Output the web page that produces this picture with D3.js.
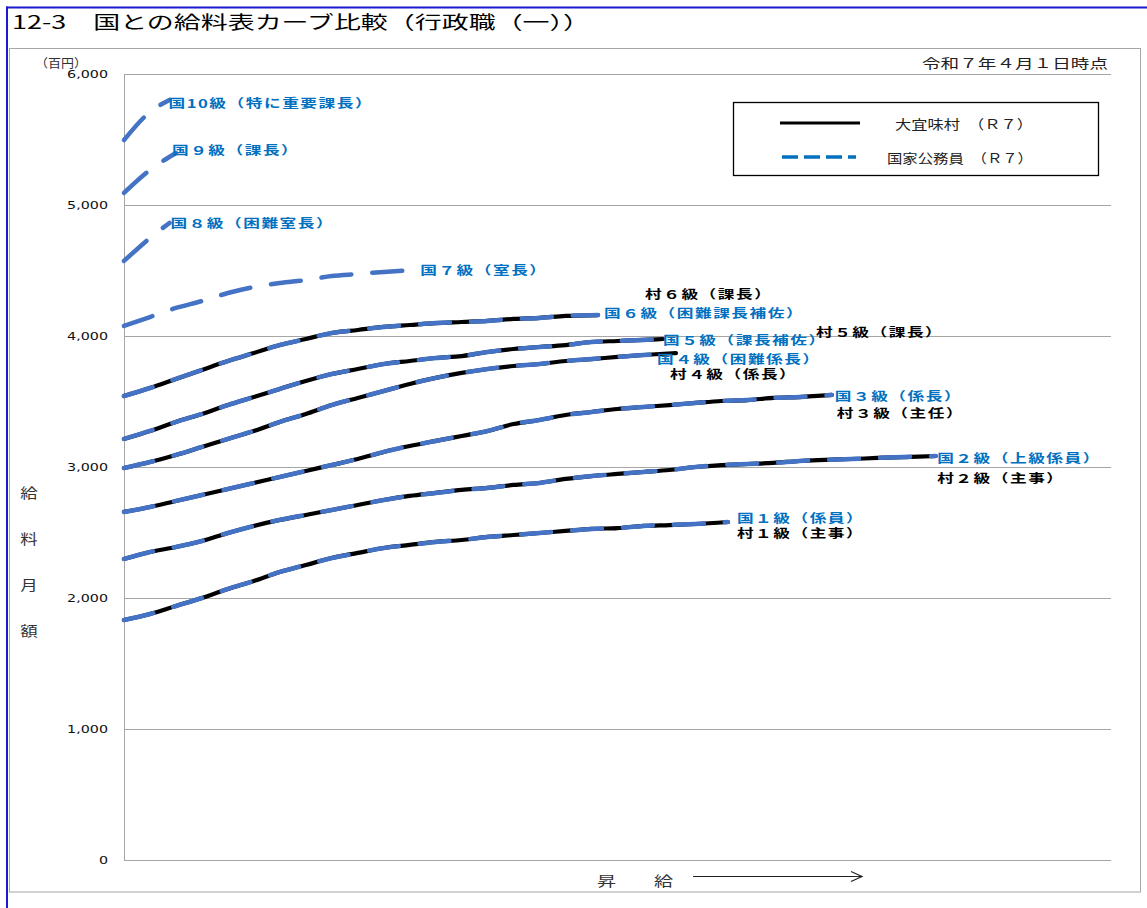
<!DOCTYPE html>
<html lang="ja">
<head>
<meta charset="utf-8">
<script src="https://cdn.jsdelivr.net/npm/d3@7"></script>
<style>
  html, body { margin: 0; padding: 0; background: #fff; }
  svg text { font-family: "Noto Sans CJK JP", "Noto Sans", sans-serif; }
</style>
</head>
<body>
<svg id="chart" width="1147" height="908"></svg>
<script>
// ---------- data (給料月額, 百円) ----------
const yTicks = [0, 1000, 2000, 3000, 4000, 5000, 6000];
const sampleEvery = 4;   // 号俸 between sampled points
const maxStep = 152;     // last 号俸 position on the horizontal axis

// 国家公務員 行政職（一） grades 1–10: values every 4 号俸, last value at the grade's final 号俸
const kuni1  = [1832,1878,1939,2000,2069,2130,2199,2252,2305,2344,2382,2405,2428,2443,2466,2481,2496,2512,2527,2534,2550,2557,2565,2580];
const kuni2  = [2298,2351,2389,2435,2496,2550,2596,2634,2672,2710,2748,2779,2802,2825,2840,2863,2878,2909,2931,2947,2962,2977,3000,3015,3023,3031,3046,3054,3061,3069,3076,3084];
const kuni3  = [2657,2695,2741,2786,2832,2878,2924,2970,3015,3061,3115,3160,3199,3237,3275,3328,3359,3397,3420,3443,3458,3473,3489,3504,3511,3527,3534,3550];
const kuni4  = [2992,3038,3092,3153,3214,3275,3344,3405,3473,3527,3580,3634,3680,3718,3748,3771,3786,3809,3824,3840,3855,3863];
const kuni5  = [3214,3275,3344,3405,3473,3534,3596,3657,3710,3748,3786,3809,3832,3847,3878,3901,3916,3931,3954,3962,3970,3977];
const kuni6  = [3542,3603,3672,3741,3809,3870,3931,3977,4023,4046,4069,4084,4099,4107,4115,4130,4138,4153,4160];
const kuni7  = [4077,4145,4214,4267,4328,4374,4405,4427,4458,4473,4489,4504];
const kuni8  = [4573,4748,4863];
const kuni9  = [5092,5267,5397];
const kuni10 = [5496,5710,5802];
const kuniLastStep = [93, 125, 109, 83, 83, 73, 45, 7, 8, 7];
const kuniLabels = [
  "国１級（係員）", "国２級（上級係員）", "国３級（係長）", "国４級（困難係長）",
  "国５級（課長補佐）", "国６級（困難課長補佐）", "国７級（室長）", "国８級（困難室長）",
  "国９級（課長）", "国10級（特に重要課長）"
];

// 大宜味村 grades 1–6
const mura1 = [1832,1878,1939,2000,2069,2130,2199,2252,2305,2344,2382,2405,2428,2443,2466,2481,2496,2512,2527,2534,2550,2557,2565,2580];
const mura2 = [2298,2351,2389,2435,2496,2550,2596,2634,2672,2710,2748,2779,2802,2825,2840,2863,2878,2909,2931,2947,2962,2977,3000,3015,3023,3031,3046,3054,3061,3069,3076,3084];
const mura3 = [2657,2695,2741,2786,2832,2878,2924,2970,3015,3061,3115,3160,3199,3237,3275,3328,3359,3397,3420,3443,3458,3473,3489,3504,3511,3527,3534,3550];
const mura4 = [2992,3038,3092,3153,3214,3275,3344,3405,3473,3527,3580,3634,3680,3718,3748,3771,3786,3809,3824,3840,3855,3870];
const mura5 = [3214,3275,3344,3405,3473,3534,3596,3657,3710,3748,3786,3809,3832,3847,3878,3901,3916,3931,3954,3962,3970,3977];
const mura6 = [3542,3603,3672,3741,3809,3870,3931,3977,4023,4046,4069,4084,4099,4107,4115,4130,4138,4153,4160];
const muraLastStep = [93, 125, 109, 85, 83, 73];
const muraLabels = [
  "村１級（主事）", "村２級（主事）", "村３級（主任）",
  "村４級（係長）", "村５級（課長）", "村６級（課長）"
];

const legendNames = ["大宜味村　（Ｒ７）", "国家公務員　（Ｒ７）"];

// ---------- layout ----------
const W = 1147, H = 908;
const plot = { left: 124, right: 1111, top: 74, bottom: 860 };
const BLUE_LINE = "#4472C4", BLUE_TEXT = "#0070C0";

// label offsets (px) from each series' end point: [dx, dy]
const kuniLabelOffset = [[9,-4.5],[1.5,2],[3,0.5],[-6,4.5],[0,1],[6,-2.5],[4,0],[1,0],[-4,-3],[-1,3]];
const muraLabelOffset = [[9,11],[1.5,21.5],[5,17.5],[-6,20.5],[153,-7.5],[47,-21.5]];

const svg = d3.select("#chart");

const x = d3.scaleLinear().domain([0, maxStep]).range([plot.left, plot.right]);
const y = d3.scaleLinear().domain([0, 6000]).range([plot.bottom, plot.top]);

function toPoints(values, lastStep) {
  return values.map((v, i) => ({
    step: i === values.length - 1 ? lastStep : i * sampleEvery,
    v
  }));
}
const line = d3.line().x(d => x(d.step)).y(d => y(d.v)).curve(d3.curveMonotoneX);

// outer cell border
svg.append("line").attr("x1", 6).attr("x2", W).attr("y1", 7.5).attr("y2", 7.5)
  .attr("stroke", "#1a1ad0").attr("stroke-width", 2);
svg.append("line").attr("x1", 7).attr("x2", 7).attr("y1", 6.5).attr("y2", H)
  .attr("stroke", "#1a1ad0").attr("stroke-width", 2);

// title
svg.append("text").attr("x", 12).attr("y", 29)
  .attr("font-size", 18).attr("fill", "#000")
  .attr("textLength", 578).attr("lengthAdjust", "spacingAndGlyphs")
  .text("12-3　国との給料表カーブ比較（行政職（一））");

// chart area frame
svg.append("rect").attr("x", 9.5).attr("y", 48.5).attr("width", 1131).attr("height", 843.5)
  .attr("fill", "none").attr("stroke", "#a6a6a6").attr("stroke-width", 1);

// gridlines
svg.append("g").selectAll("line").data(yTicks.filter(t => t > 0)).join("line")
  .attr("x1", plot.left).attr("x2", plot.right)
  .attr("y1", d => Math.round(y(d)) + 0.5).attr("y2", d => Math.round(y(d)) + 0.5)
  .attr("stroke", "#a6a6a6").attr("stroke-width", 1);

// axis lines (no tick marks)
svg.append("line").attr("x1", plot.left + 0.5).attr("x2", plot.left + 0.5)
  .attr("y1", plot.top).attr("y2", plot.bottom + 0.5).attr("stroke", "#a6a6a6");
svg.append("line").attr("x1", plot.left).attr("x2", plot.right)
  .attr("y1", plot.bottom + 0.5).attr("y2", plot.bottom + 0.5).attr("stroke", "#a6a6a6");

// y tick labels
const fmt = d3.format(",");
svg.append("g").selectAll("text").data(yTicks).join("text")
  .attr("transform", d => `translate(108,${y(d)}) scale(1.3,1)`)
  .attr("text-anchor", "end").attr("dominant-baseline", "central")
  .attr("font-size", 11).attr("fill", "#111")
  .style("font-family", "'DejaVu Sans', sans-serif")
  .text(d => fmt(d));

// unit
svg.append("text").attr("x", 35).attr("y", 62).attr("dominant-baseline", "central")
  .attr("font-size", 12).attr("fill", "#333")
  .attr("textLength", 52).attr("lengthAdjust", "spacingAndGlyphs")
  .text("（百円）");

// date note
svg.append("text").attr("x", 922).attr("y", 62.5).attr("dominant-baseline", "central")
  .attr("font-size", 13).attr("fill", "#222")
  .attr("textLength", 186).attr("lengthAdjust", "spacingAndGlyphs")
  .text("令和７年４月１日時点");

// vertical axis title
const yTitle = ["給", "料", "月", "額"];
svg.append("g").selectAll("text").data(yTitle).join("text")
  .attr("transform", (d, i) => `translate(29,${492 + i * 46}) scale(1.25,1)`)
  .attr("text-anchor", "middle").attr("dominant-baseline", "central")
  .attr("font-size", 14).attr("fill", "#333")
  .text(d => d);

// horizontal axis caption with arrow
svg.append("text").attr("transform", "translate(597,880) scale(1.36,1)")
  .attr("dominant-baseline", "central").attr("font-size", 14).attr("fill", "#333")
  .text("昇　　給");
svg.append("line").attr("x1", 693).attr("x2", 862).attr("y1", 876.5).attr("y2", 876.5)
  .attr("stroke", "#222").attr("stroke-width", 1);
svg.append("path").attr("d", "M851,871.5 L862,876.5 L851,881.5")
  .attr("fill", "none").attr("stroke", "#222").attr("stroke-width", 1.2);

// village lines (solid black) underneath
const muraSeries = [mura1, mura2, mura3, mura4, mura5, mura6];
const muraData = muraSeries.map((vals, i) => ({
  pts: toPoints(vals, muraLastStep[i]), label: muraLabels[i], off: muraLabelOffset[i]
}));
svg.append("g").selectAll("path").data(muraData).join("path")
  .attr("d", d => line(d.pts))
  .attr("fill", "none").attr("stroke", "#000").attr("stroke-width", 4.2)
  .attr("stroke-linecap", "round").attr("stroke-linejoin", "round");

// national lines (long-dash blue) on top
const kuniSeries = [kuni1, kuni2, kuni3, kuni4, kuni5, kuni6, kuni7, kuni8, kuni9, kuni10];
const kuniData = kuniSeries.map((vals, i) => ({
  pts: toPoints(vals, kuniLastStep[i]), label: kuniLabels[i], off: kuniLabelOffset[i]
}));
svg.append("g").selectAll("path").data(kuniData).join("path")
  .attr("d", d => line(d.pts))
  .attr("fill", "none").attr("stroke", BLUE_LINE).attr("stroke-width", 4.5)
  .attr("stroke-dasharray", "30,21")
  .attr("stroke-linecap", "round").attr("stroke-linejoin", "round");

// end labels
function drawLabels(data, color) {
  svg.append("g").selectAll("text").data(data).join("text")
    .attr("transform", d => {
      const e = d.pts[d.pts.length - 1];
      return `translate(${x(e.step) + d.off[0]},${y(e.v) + d.off[1]}) scale(1.39,1)`;
    })
    .attr("dominant-baseline", "central")
    .attr("font-size", 12).attr("font-weight", 700).attr("fill", color)
    .attr("letter-spacing", 1.1)
    .text(d => d.label);
}
drawLabels(muraData, "#000");
drawLabels(kuniData, BLUE_TEXT);

// legend
const lg = svg.append("g");
lg.append("rect").attr("x", 733.5).attr("y", 102.5).attr("width", 365).attr("height", 73)
  .attr("fill", "#fff").attr("stroke", "#000").attr("stroke-width", 1.3);
lg.append("line").attr("x1", 780).attr("x2", 860).attr("y1", 123).attr("y2", 123)
  .attr("stroke", "#000").attr("stroke-width", 3);
lg.append("line").attr("x1", 782).attr("x2", 856).attr("y1", 157).attr("y2", 157)
  .attr("stroke", BLUE_TEXT).attr("stroke-width", 3.5).attr("stroke-dasharray", "16,6");
lg.append("text").attr("x", 895).attr("y", 123).attr("dominant-baseline", "central")
  .attr("font-size", 13).attr("fill", "#222")
  .attr("textLength", 138).attr("lengthAdjust", "spacingAndGlyphs")
  .text(legendNames[0]);
lg.append("text").attr("x", 887).attr("y", 157).attr("dominant-baseline", "central")
  .attr("font-size", 13).attr("fill", "#222")
  .attr("textLength", 146).attr("lengthAdjust", "spacingAndGlyphs")
  .text(legendNames[1]);
</script>
</body>
</html>
